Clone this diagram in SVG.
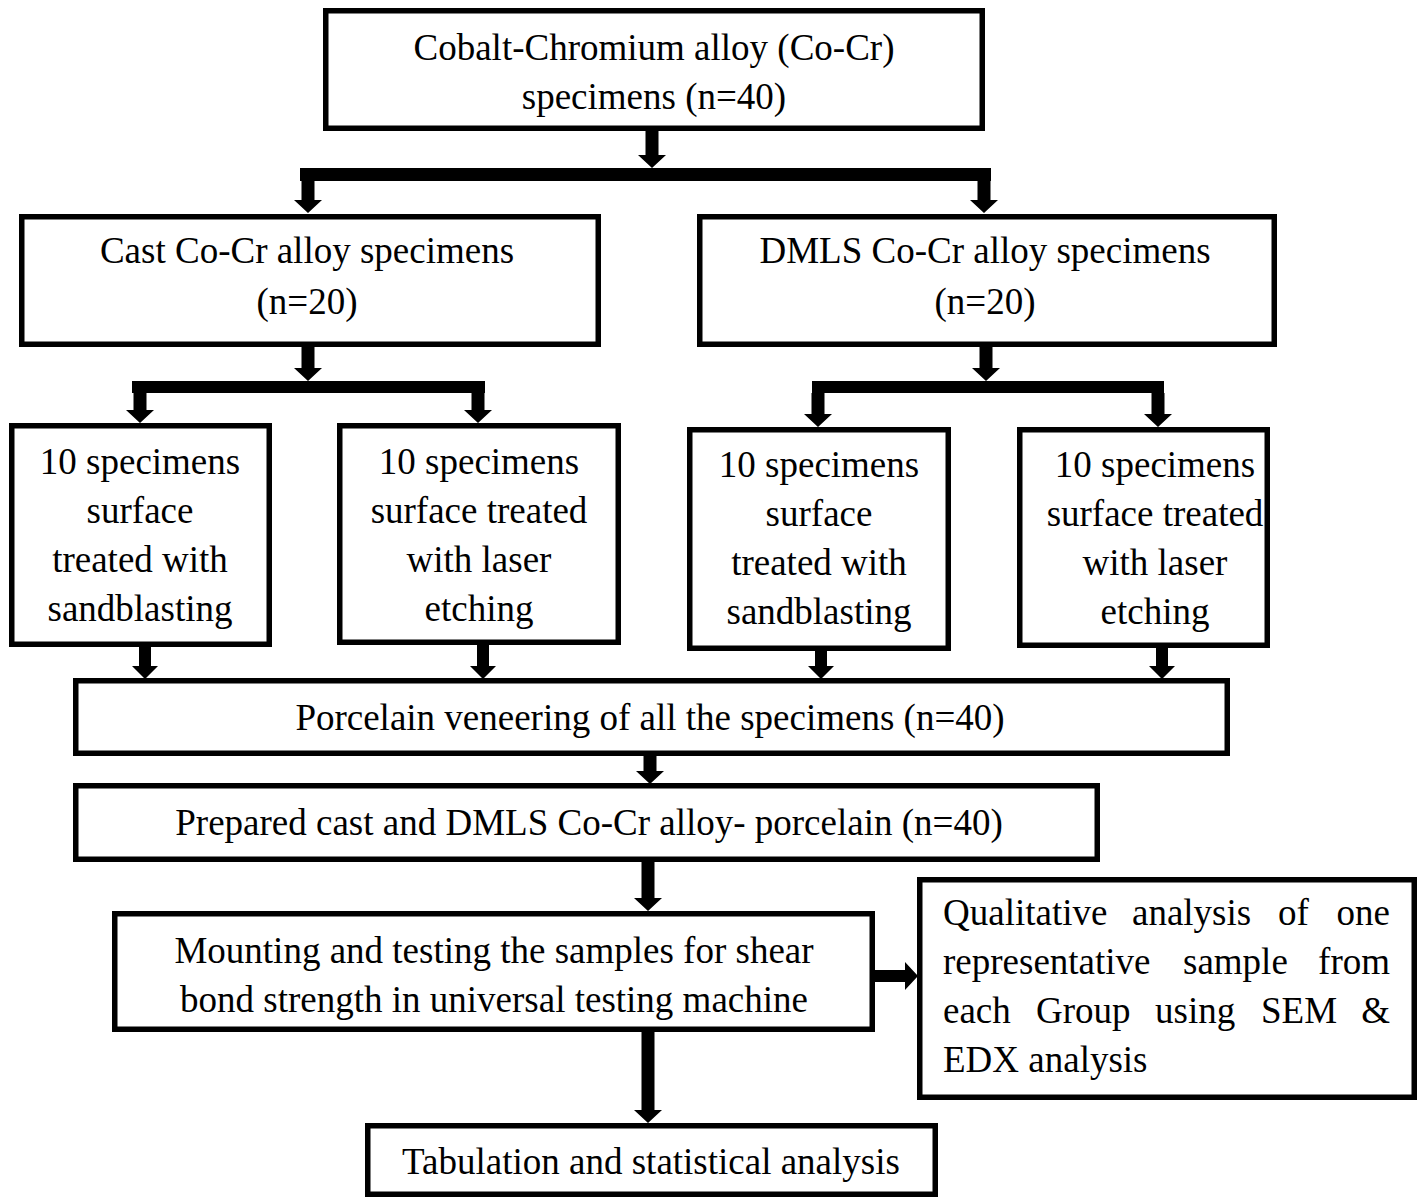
<svg xmlns="http://www.w3.org/2000/svg" width="1419" height="1199" viewBox="0 0 1419 1199">
<style>
.box{fill:#fff;stroke:#000;stroke-width:5.5}
.t{font-family:"Liberation Serif","Times New Roman",serif;font-size:37px;fill:#000;text-anchor:middle}
.tl{font-family:"Liberation Serif","Times New Roman",serif;font-size:37px;fill:#000}
.te{font-family:"Liberation Serif","Times New Roman",serif;font-size:37px;fill:#000;text-anchor:end}
.c{fill:#000}
</style>
<rect width="1419" height="1199" fill="#fff"/>
<g id="connectors">
<path class="c" d="M645.5 131H658.5V155H666L652 168L638 155H645.5Z"/>
<rect class="c" x="300" y="168" width="691" height="13"/>
<path class="c" d="M301.5 181H314.5V200H322L308 213L294 200H301.5Z"/>
<path class="c" d="M977.5 181H990.5V200H998L984 213L970 200H977.5Z"/>
<path class="c" d="M301.5 347H314.5V368H322L308 381L294 368H301.5Z"/>
<rect class="c" x="132" y="381" width="353" height="12"/>
<path class="c" d="M133.5 393H146.5V410H154L140 423L126 410H133.5Z"/>
<path class="c" d="M471.5 393H484.5V410H492L478 423L464 410H471.5Z"/>
<path class="c" d="M979.5 347H992.5V368H1000L986 381L972 368H979.5Z"/>
<rect class="c" x="812" y="381" width="352" height="12"/>
<path class="c" d="M811.5 393H824.5V414H832L818 427L804 414H811.5Z"/>
<path class="c" d="M1151.5 393H1164.5V414H1172L1158 427L1144 414H1151.5Z"/>
<path class="c" d="M139 647H151V666H158L145 679L132 666H139Z"/>
<path class="c" d="M477 645H489V666H496L483 679L470 666H477Z"/>
<path class="c" d="M815 651H827V666H834L821 679L808 666H815Z"/>
<path class="c" d="M1156 648H1168V666H1175L1162 679L1149 666H1156Z"/>
<path class="c" d="M643.5 756H656.5V771H664L650 784L636 771H643.5Z"/>
<path class="c" d="M641.5 862H654.5V898H662L648 911L634 898H641.5Z"/>
<path class="c" d="M641.5 1032H654.5V1110H662L648 1123L634 1110H641.5Z"/>
<path class="c" d="M875 970H905V962L918 976L905 990V982H875Z"/>
</g>
<g id="n1"><rect class="box" x="325.75" y="10.75" width="656.5" height="117.5"/>
<text class="t" x="654" y="60">Cobalt-Chromium alloy (Co-Cr)</text>
<text class="t" x="654" y="109">specimens (n=40)</text></g>
<g id="n2"><rect class="box" x="21.75" y="216.75" width="576.5" height="127.5"/>
<text class="t" x="307" y="263">Cast Co-Cr alloy specimens</text>
<text class="t" x="307" y="314">(n=20)</text></g>
<g id="n3"><rect class="box" x="699.75" y="216.75" width="574.5" height="127.5"/>
<text class="t" x="985" y="263">DMLS Co-Cr alloy specimens</text>
<text class="t" x="985" y="314">(n=20)</text></g>
<g id="n4"><rect class="box" x="11.75" y="425.75" width="257.5" height="218.5"/>
<text class="t" x="140" y="474">10 specimens</text>
<text class="t" x="140" y="523">surface</text>
<text class="t" x="140" y="572">treated with</text>
<text class="t" x="140" y="621">sandblasting</text></g>
<g id="n5"><rect class="box" x="339.75" y="425.75" width="278.5" height="216.5"/>
<text class="t" x="479" y="474">10 specimens</text>
<text class="t" x="479" y="523">surface treated</text>
<text class="t" x="479" y="572">with laser</text>
<text class="t" x="479" y="621">etching</text></g>
<g id="n6"><rect class="box" x="689.75" y="429.75" width="258.5" height="218.5"/>
<text class="t" x="819" y="477">10 specimens</text>
<text class="t" x="819" y="526">surface</text>
<text class="t" x="819" y="575">treated with</text>
<text class="t" x="819" y="624">sandblasting</text></g>
<g id="n7"><rect class="box" x="1019.75" y="429.75" width="247.5" height="215.5"/>
<text class="t" x="1155" y="477">10 specimens</text>
<text class="t" x="1155" y="526">surface treated</text>
<text class="t" x="1155" y="575">with laser</text>
<text class="t" x="1155" y="624">etching</text></g>
<g id="n8"><rect class="box" x="75.75" y="680.75" width="1151.5" height="72.5"/>
<text class="t" x="650" y="730">Porcelain veneering of all the specimens (n=40)</text></g>
<g id="n9"><rect class="box" x="75.75" y="785.75" width="1021.5" height="73.5"/>
<text class="t" x="589" y="835">Prepared cast and DMLS Co-Cr alloy- porcelain (n=40)</text></g>
<g id="n10"><rect class="box" x="114.75" y="913.75" width="757.5" height="115.5"/>
<text class="t" x="494" y="963">Mounting and testing the samples for shear</text>
<text class="t" x="494" y="1012">bond strength in universal testing machine</text></g>
<g id="n11"><rect class="box" x="919.75" y="879.75" width="494.5" height="217.5"/>
<text class="tl" x="943" y="925">Qualitative</text>
<text class="tl" x="1132" y="925">analysis</text>
<text class="tl" x="1278" y="925">of</text>
<text class="te" x="1390" y="925">one</text>
<text class="tl" x="943" y="974">representative</text>
<text class="tl" x="1183" y="974">sample</text>
<text class="te" x="1390" y="974">from</text>
<text class="tl" x="943" y="1023">each</text>
<text class="tl" x="1036" y="1023">Group</text>
<text class="tl" x="1155" y="1023">using</text>
<text class="tl" x="1261" y="1023">SEM</text>
<text class="te" x="1390" y="1023">&amp;</text>
<text class="tl" x="943" y="1072">EDX analysis</text></g>
<g id="n12"><rect class="box" x="367.75" y="1125.75" width="567.5" height="68.5"/>
<text class="t" x="651" y="1174">Tabulation and statistical analysis</text></g>
</svg>
